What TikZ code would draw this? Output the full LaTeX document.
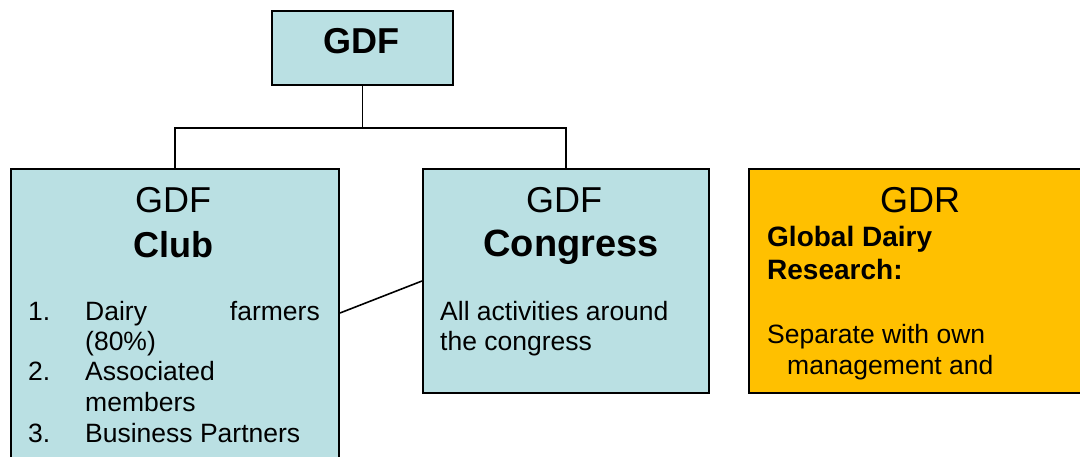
\documentclass[tikz,border=0pt]{standalone}
\usepackage{fontspec}
\setmainfont{Liberation Sans}
\definecolor{lblue}{HTML}{BAE0E3}
\definecolor{gold}{HTML}{FFC000}
\tikzset{
  box/.style={draw=black, line width=2pt, rectangle, inner sep=0pt, anchor=north west},
  conn/.style={draw=black, line width=1.6pt},
  txt/.style={inner sep=0pt, anchor=base west, font=\fontsize{26.5}{30}\selectfont},
  btxt/.style={inner sep=0pt, anchor=base west, font=\fontsize{28}{32}\selectfont\bfseries},
  title/.style={inner sep=0pt, anchor=base, font=\fontsize{36}{40}\selectfont},
  btitle/.style={inner sep=0pt, anchor=base, font=\fontsize{36}{40}\selectfont\bfseries}
}
\begin{document}
\begin{tikzpicture}[x=1pt,y=-1pt]
\useasboundingbox (0,0) rectangle (1080,457);
\clip (0,0) rectangle (1080,457);
\fill[white] (0,0) rectangle (1080,457);
% boxes
\node[box, fill=lblue, minimum width=181pt, minimum height=74pt] (gdf) at (271,10) {};
\node[box, fill=lblue, minimum width=328pt, minimum height=300pt] (club) at (10,168) {};
\node[box, fill=lblue, minimum width=286pt, minimum height=224pt] (congress) at (422,168) {};
\node[box, fill=gold, minimum width=345pt, minimum height=224pt] (gdr) at (748,168) {};
% connectors
\coordinate (j) at ([yshift=-42pt]gdf.south);
\draw[conn] (gdf.south) -- (j);
\draw[conn] (j) -| (club.north);
\draw[conn] (j) -| (congress.north);
\draw[conn] ([yshift=6pt]club.east) -- (congress.west);
% top
\node[btitle] (t0) at (361,54) {GDF};
% club
\node[title] (c1) at (173,213) {GDF};
\node[btitle] (c2) at (173,258) {Club};
\node[txt] (n1) at (28,320) {1.};
\node[txt] (l1a) at (85,320) {Dairy};
\node[txt, anchor=base east] (l1b) at (320,320) {farmers};
\node[txt] (l1c) at (85,350.5) {(80\%)};
\node[txt] (n2) at (28,381) {2.};
\node[txt] (l2a) at (85,381) {Associated};
\node[txt] (l2b) at (85,411.5) {members};
\node[txt] (n3) at (28,442) {3.};
\node[txt] (l3) at (85,442) {Business Partners};
% congress
\node[title] (g1) at (564,213) {GDF};
\node[btitle, font=\fontsize{38}{42}\selectfont\bfseries] (g2) at (571,257) {Congress};
\node[txt] (g3) at (440,321) {All activities around};
\node[txt] (g4) at (440,351) {the congress};
% gdr
\node[title] (r1) at (920,213) {GDR};
\node[btxt] (r2) at (767,247) {Global Dairy};
\node[btxt] (r3) at (767,280) {Research:};
\node[txt] (r4) at (767,344) {Separate with own};
\node[txt] (r5) at (787,374) {management and};
\end{tikzpicture}
\end{document}
